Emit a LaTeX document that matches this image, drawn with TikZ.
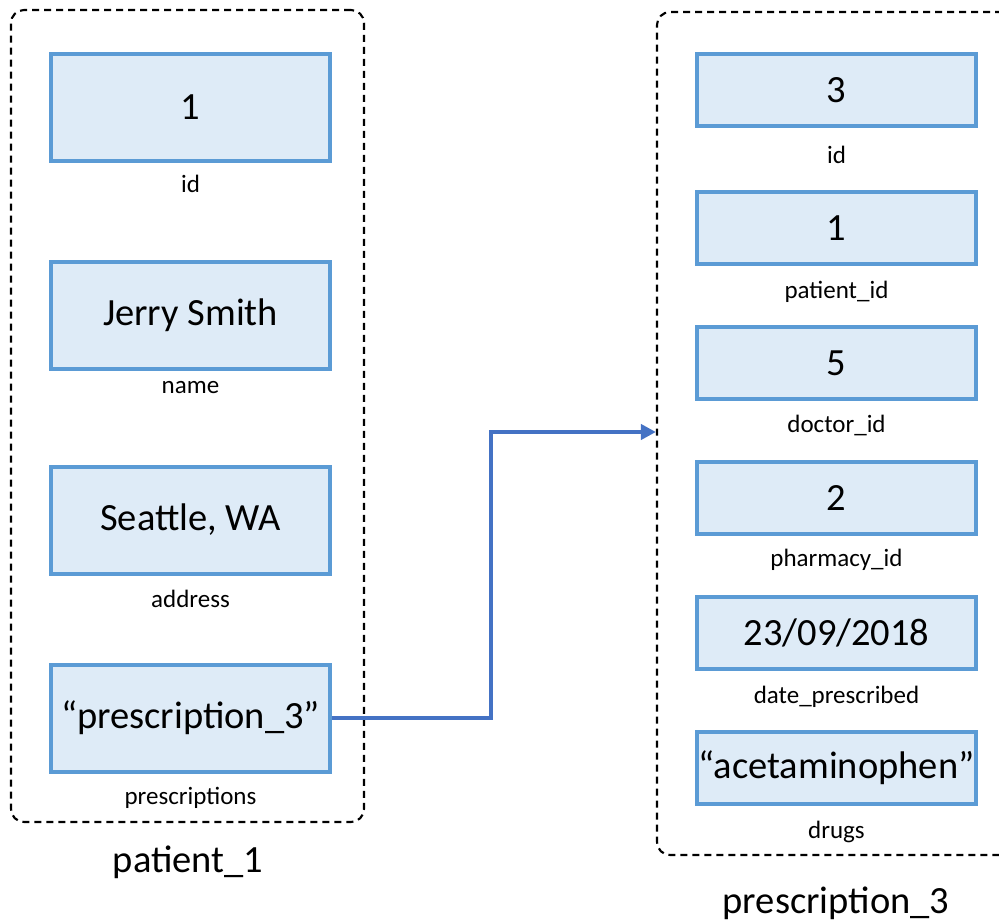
\documentclass[tikz,border=0pt]{standalone}
\usepackage{fontspec}
\setmainfont{Carlito}
\usetikzlibrary{arrows.meta}
\definecolor{boxline}{HTML}{5B9BD5}
\definecolor{boxfill}{HTML}{DEEBF7}
\definecolor{linkblue}{HTML}{4472C4}
\tikzset{
  record/.style={draw=black, dashed, dash pattern=on 7pt off 5pt, line width=2.1pt,
    rounded corners=13pt, inner sep=0pt},
  field/.style={draw=boxline, fill=boxfill, line width=4pt, minimum width=279pt,
    inner sep=0pt, font=\fontsize{38.5}{41}\selectfont},
  tallfield/.style={field, minimum height=107pt},
  shortfield/.style={field, minimum height=72pt},
  fieldname/.style={inner sep=0pt, font=\fontsize{25}{27}\selectfont},
  recname/.style={inner sep=0pt, font=\fontsize{38.5}{41}\selectfont},
  link/.style={draw=linkblue, line width=4pt, -{Triangle[length=15pt,width=15pt]}}
}
\begin{document}
\begin{tikzpicture}[x=1pt,y=-1pt]
\clip (0,0) rectangle (999,923);

% patient record
\node[record, minimum width=353pt, minimum height=812pt] (pc) at (187.5,416) {};
\node[tallfield] (p1) at (190.5,107.5) {1};
\node[fieldname] at (190.5,184) {id};
\node[tallfield] (p2) at (190.5,315.5) {Jerry Smith};
\node[fieldname] at (190.5,388) {name};
\node[tallfield] (p3) at (190.5,520) {Seattle, WA};
\node[fieldname] at (190.5,599) {address};
\node[tallfield] (p4) at (190.5,718) {“prescription\_3”};
\node[fieldname] at (190.5,798) {prescriptions};
\node[recname] at (188,862) {patient\_1};

% prescription record
\node[record, minimum width=370pt, minimum height=843pt] (rc) at (842,433.5) {};
\node[shortfield] (r1) at (836.5,90) {3};
\node[fieldname] at (836.5,155) {id};
\node[shortfield] (r2) at (836.5,228) {1};
\node[fieldname] at (836.5,292) {patient\_id};
\node[shortfield] (r3) at (836.5,363) {5};
\node[fieldname] at (836.5,425) {doctor\_id};
\node[shortfield] (r4) at (836.5,498) {2};
\node[fieldname] at (836.5,560) {pharmacy\_id};
\node[shortfield] (r5) at (836.5,633) {23/09/2018};
\node[fieldname] at (836.5,697) {date\_prescribed};
\node[shortfield] (r6) at (836.5,768) {“acetaminophen”};
\node[fieldname] at (836.5,832) {drugs};
\node[recname] at (836,903) {prescription\_3};

% reference from the patient to the prescription
\coordinate (bend) at (491,432);
\draw[link] (p4.east) -- (p4.east -| bend) -- (bend) -- (bend -| rc.west);
\end{tikzpicture}
\end{document}
